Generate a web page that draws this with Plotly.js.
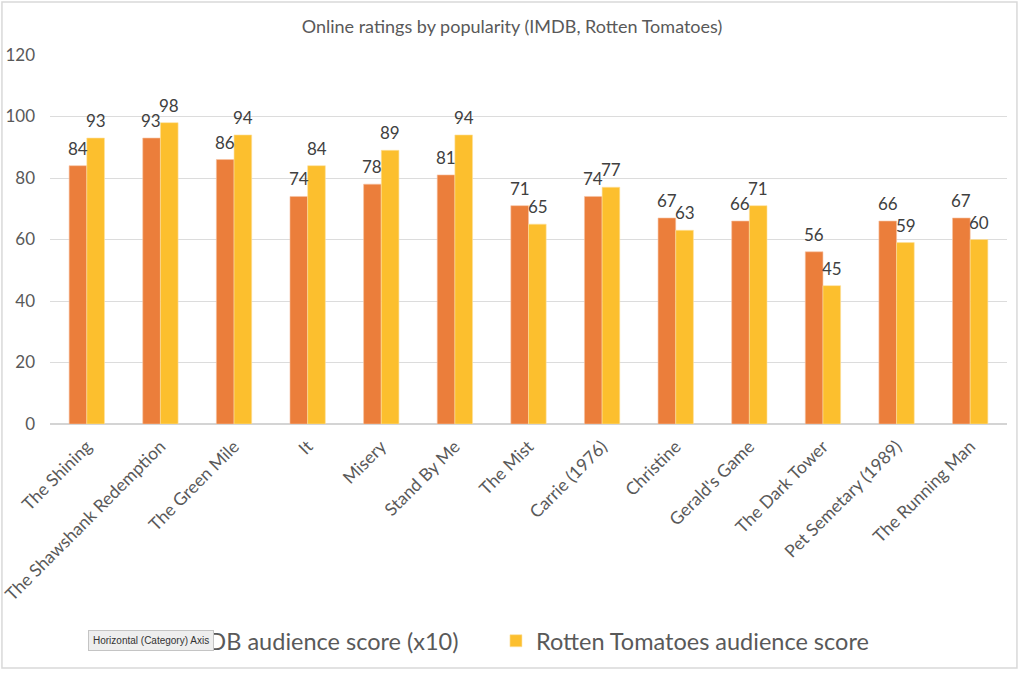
<!DOCTYPE html>
<html>
<head>
<meta charset="utf-8">
<script src="https://cdn.plot.ly/plotly-3.0.1.min.js"></script>
<style>
  html, body { margin: 0; padding: 0; background: #ffffff; }
  #chart { width: 1024px; height: 675px; }
</style>
</head>
<body>
<div id="chart"></div>
<script>
const movies = [
  'The Shining', 'The Shawshank Redemption', 'The Green Mile', 'It', 'Misery',
  'Stand By Me', 'The Mist', 'Carrie (1976)', 'Christine', "Gerald's Game",
  'The Dark Tower', 'Pet Semetary (1989)', 'The Running Man'
]
const imdbScores = [84, 93, 86, 74, 78, 81, 71, 74, 67, 66, 56, 66, 67]
const rtScores = [93, 98, 94, 84, 89, 94, 65, 77, 63, 71, 45, 59, 60]
const yTicks = [0, 20, 40, 60, 80, 100, 120]

const FONT = 'Lato, "Open Sans", sans-serif'
const grey = '#595959'

const imdb = {
  x: movies,
  y: imdbScores,
  type: 'bar',
  name: 'IMDB audience score (x10)',
  marker: { color: '#EB7E3B', line: { color: '#F6C3A3', width: 0.6 } },
  legend: 'legend',
}

const rt = {
  x: movies,
  y: rtScores,
  type: 'bar',
  name: 'Rotten Tomatoes audience score',
  marker: { color: '#FCBF2E', line: { color: '#FDE0A0', width: 0.6 } },
  legend: 'legend2',
}

// value labels above each bar, Excel style (a bit higher than plotly's outside text)
function valueLabels(values, shift) {
  return values.map((v, i) => ({
    x: movies[i],
    y: v,
    xref: 'x',
    yref: 'y',
    text: String(v),
    showarrow: false,
    xshift: shift,
    yshift: 5,
    yanchor: 'bottom',
    font: { family: FONT, size: 17, color: '#404040' },
  }))
}

const legendBase = {
  orientation: 'h',
  xanchor: 'left',
  y: -0.588,
  yanchor: 'middle',
  font: { family: FONT, size: 23.5, color: grey },
  itemclick: false,
  bgcolor: 'rgba(0,0,0,0)',
}

const layout = {
  width: 1024,
  height: 675,
  paper_bgcolor: '#ffffff',
  plot_bgcolor: '#ffffff',
  margin: { l: 50, r: 17, t: 55, b: 251 },
  font: { family: FONT, color: grey },
  title: {
    text: 'Online ratings by popularity (IMDB, Rotten Tomatoes)',
    x: 0.5,
    xref: 'container',
    y: 0.96,
    yanchor: 'middle',
    font: { family: FONT, size: 18, color: grey },
  },
  barmode: 'group',
  bargap: 0.52,
  bargroupgap: 0,
  showlegend: true,
  legend: Object.assign({ x: 0.094 }, legendBase),
  legend2: Object.assign({ x: 0.466 }, legendBase),
  xaxis: {
    tickangle: -45,
    tickfont: { family: FONT, size: 17.5, color: grey },
    showline: false,
    showgrid: false,
    ticks: '',
    ticklabelstandoff: 8,
  },
  yaxis: {
    range: [0, 120],
    tickvals: yTicks,
    tickfont: { family: FONT, size: 17, color: grey },
    gridcolor: '#dcdcdc',
    gridwidth: 1,
    zeroline: true,
    zerolinecolor: '#d4d4d4',
    zerolinewidth: 1.5,
    showline: false,
    ticks: '',
    ticklabelstandoff: 14,
  },
  shapes: [{
    type: 'rect',
    xref: 'paper',
    yref: 'paper',
    x0: -0.0502,
    x1: 1.0104,
    y0: -0.661,
    y1: 1.1436,
    line: { color: '#d9d9d9', width: 1.5 },
    fillcolor: 'rgba(0,0,0,0)',
  }],
  annotations: [
    ...valueLabels(imdbScores, -9),
    ...valueLabels(rtScores, 9),
    {
      text: 'Horizontal (Category) Axis',
      xref: 'paper',
      yref: 'paper',
      x: 0.0397,
      xanchor: 'left',
      y: -0.588,
      yanchor: 'middle',
      showarrow: false,
      font: { family: 'Liberation Sans, Arial, sans-serif', size: 10, color: '#333333' },
      bgcolor: '#eeeeee',
      bordercolor: '#c4c4c4',
      borderwidth: 1,
      borderpad: 4,
    },
  ],
}

const config = {
  responsive: false,
  displaylogo: false,
  displayModeBar: false,
  staticPlot: true,
}

Plotly.newPlot('chart', [imdb, rt], layout, config)
</script>
</body>
</html>
